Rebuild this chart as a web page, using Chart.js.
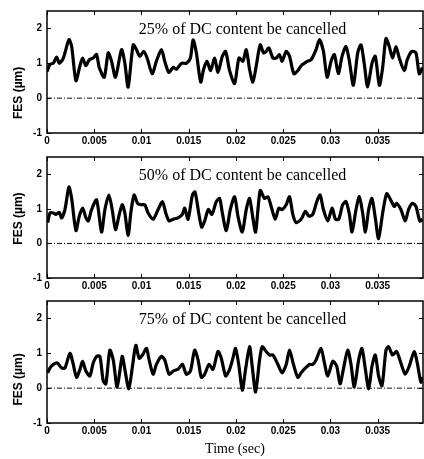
<!DOCTYPE html>
<html>
<head>
<meta charset="utf-8">
<script src="https://cdn.jsdelivr.net/npm/chart.js@4.4.0/dist/chart.umd.min.js"></script>
<style>
  body { margin: 0; background: #fff; }
  #wrap { position: relative; width: 424px; height: 459px; overflow: hidden; background: #fff; }
  canvas { position: absolute; left: 0; }
</style>
</head>
<body>
<div id="wrap">
  <canvas id="fes25" width="424" height="150" style="top:0px"></canvas>
  <canvas id="fes50" width="424" height="149" style="top:146px"></canvas>
  <canvas id="fes75" width="424" height="169" style="top:290px"></canvas>
</div>
<script>
// FES traces, time in ms, FES in um
var time25 = [0,0.32,0.67,1.02,1.30,1.73,2.32,2.61,3.06,3.49,
  3.77,4.12,4.47,4.89,5.25,5.53,6.06,6.48,6.83,7.25,
  7.89,8.24,8.59,9.12,9.47,9.82,10.25,10.60,11.13,11.58,
  12.11,12.46,12.89,13.35,13.70,14.23,14.75,15.18,15.46,15.81,
  16.27,16.58,16.94,17.32,17.75,18.10,18.56,18.91,19.33,19.86,
  20.32,20.74,21.09,21.44,21.79,22.15,22.57,22.92,23.20,23.49,
  23.91,24.26,24.61,24.89,25.32,25.67,26.13,26.55,26.90,27.25,
  27.60,27.96,28.48,28.84,29.26,29.65,30.07,30.42,30.84,31.23,
  31.65,32.01,32.43,32.89,33.24,33.59,33.94,34.40,34.75,35.18,
  35.53,35.88,36.23,36.58,36.94,37.29,37.82,38.13,38.59,39.05,
  39.40,39.75];
var fes25 = [0.76,0.97,1.0,1.18,1.0,1.15,1.68,1.48,0.5,0.93,
  1.15,0.93,1.1,1.15,1.25,0.88,0.6,1.3,1.06,0.6,
  1.39,1.0,0.32,1.53,1.39,1.2,1.34,1.15,0.7,1.06,
  1.39,1.06,0.74,0.88,0.83,1.0,1.0,1.15,1.67,1.3,
  0.46,0.83,1.06,0.79,1.15,0.74,1.2,1.34,0.79,0.42,
  1.15,1.06,1.39,0.83,0.46,0.93,1.53,1.3,1.34,1.44,
  1.15,1.15,1.25,1.06,1.34,1.2,0.7,0.79,0.93,1.0,
  1.06,1.1,1.39,1.68,1.34,0.6,1.06,1.25,0.7,1.2,
  1.48,1.06,0.37,1.3,1.53,0.97,0.32,1.0,1.2,0.37,
  0.88,1.71,1.48,1.15,1.48,1.15,0.79,1.1,1.34,1.3,
  0.7,0.88];

var time50 = [0.07,0.32,0.67,0.95,1.30,1.55,1.90,2.32,2.61,3.06,
  3.42,3.77,4.12,4.37,4.72,5.25,5.77,6.13,6.55,6.90,
  7.25,7.61,7.96,8.24,8.59,8.87,9.22,9.58,9.93,10.35,
  10.70,11.23,11.76,12.22,12.57,12.92,13.35,13.87,14.33,14.58,
  14.93,15.39,15.67,16.06,16.37,16.69,17.08,17.46,17.92,18.27,
  18.56,18.98,19.40,19.86,20.21,20.67,21.09,21.44,21.79,22.08,
  22.57,23.03,23.38,23.73,24.15,24.54,24.89,25.32,25.67,26.02,
  26.37,26.90,27.36,27.71,28.13,28.56,28.91,29.26,29.72,30.18,
  30.53,30.88,31.30,31.65,32.01,32.29,32.71,33.06,33.41,33.70,
  34.05,34.40,34.75,35.10,35.53,35.95,36.30,36.76,37.01,37.46,
  37.92,38.27,38.70,39.05,39.47,39.75];
var fes50 = [0.6,0.88,0.88,0.84,0.9,0.74,0.98,1.63,1.3,0.37,
  0.79,1.02,0.74,0.65,0.98,1.26,0.33,0.98,1.4,0.98,
  0.4,0.79,1.12,0.88,0.23,0.88,1.4,1.16,1.12,1.12,
  0.88,0.7,0.98,1.21,0.88,0.65,0.7,0.74,0.84,1.02,
  0.7,1.4,1.49,0.88,0.47,0.65,0.98,0.84,1.21,1.3,
  0.88,0.37,0.98,1.35,0.79,0.33,0.98,1.3,0.74,0.33,
  1.53,1.3,1.35,1.07,0.7,1.02,0.98,1.12,1.35,0.84,
  0.6,0.7,0.93,0.79,0.84,1.21,1.4,0.98,0.65,1.02,
  0.7,0.7,1.12,1.21,0.84,0.33,0.98,1.35,0.88,0.33,
  0.98,1.3,0.74,0.14,0.88,1.44,1.3,1.07,1.16,0.98,
  0.65,0.98,1.16,1.07,0.65,0.7];

var time75 = [0.07,0.32,0.67,1.09,1.55,1.90,2.43,2.78,3.13,3.49,
  3.77,4.12,4.54,4.89,5.25,5.60,5.95,6.23,6.65,7.01,
  7.43,7.96,8.24,8.66,9.05,9.40,9.75,10.11,10.53,10.81,
  11.23,11.58,12.11,12.46,12.92,13.35,13.87,14.33,14.75,15.18,
  15.63,15.99,16.34,16.69,17.15,17.57,18.10,18.45,18.91,19.33,
  19.68,19.96,20.32,20.67,21.02,21.44,21.72,22.08,22.50,22.78,
  23.20,23.56,23.91,24.44,24.89,25.32,25.67,26.09,26.55,26.90,
  27.36,27.78,28.13,28.48,29.01,29.37,29.72,30.25,30.67,31.02,
  31.37,31.83,32.18,32.53,32.99,33.34,33.70,34.05,34.40,34.75,
  35.10,35.46,35.88,36.16,36.58,37.01,37.46,37.92,38.34,38.87,
  39.22,39.58,39.75];
var fes75 = [0.44,0.58,0.68,0.72,0.58,0.58,1.0,0.68,0.31,0.54,
  0.77,0.49,0.35,0.72,0.91,0.91,0.21,0.12,1.09,0.81,
  0.03,0.91,0.54,-0.02,0.63,1.23,0.86,0.95,1.14,0.81,
  0.40,0.68,0.91,0.81,0.40,0.49,0.54,0.68,0.40,0.49,
  1.09,0.81,0.31,0.40,0.68,0.54,1.05,0.86,0.35,0.54,
  0.86,1.14,0.63,-0.06,0.54,1.19,0.63,-0.11,0.81,1.19,
  1.05,0.95,0.95,0.68,0.44,0.68,1.09,0.68,0.31,0.44,
  0.58,0.68,0.68,0.81,1.14,0.72,0.35,0.77,0.63,0.12,
  0.54,1.09,0.68,0.03,0.81,1.14,0.54,-0.02,0.63,0.95,
  0.35,0.07,1.09,1.19,0.95,1.05,0.72,0.40,0.63,1.05,
  0.68,0.17,0.31];

var captions = ['25% of DC content be cancelled', '50% of DC content be cancelled', '75% of DC content be cancelled'];
var xTicks = [0, 0.005, 0.01, 0.015, 0.02, 0.025, 0.03, 0.035];
var xTickLabels = ['0', '0.005', '0.01', '0.015', '0.02', '0.025', '0.03', '0.035'];
var yTicks = [-1, 0, 1, 2];
var xMin = 0, xMax = 0.0398, yMin = -1, yMax = 2.5;
var zeroLevel = 0;

var tickFont = { family: '"Liberation Sans Narrow", "Liberation Sans", Arial, sans-serif', size: 10, weight: 'bold' };

// box with inward ticks on all four sides, caption and y label
var framePlugin = {
  id: 'frame',
  afterDatasetsDraw: function (chart) {
    var a = chart.chartArea, ctx = chart.ctx;
    var xs = chart.scales.x, ys = chart.scales.y;
    var p = chart.options.plugins.frame;
    ctx.save();
    ctx.strokeStyle = '#000';
    ctx.lineWidth = 1.5;
    ctx.strokeRect(a.left, a.top, a.right - a.left, a.bottom - a.top);
    ctx.lineWidth = 1;
    ctx.beginPath();
    xTicks.forEach(function (v) {
      var px = Math.round(xs.getPixelForValue(v)) + 0.5;
      ctx.moveTo(px, a.bottom); ctx.lineTo(px, a.bottom - 4);
      ctx.moveTo(px, a.top); ctx.lineTo(px, a.top + 4);
    });
    yTicks.forEach(function (v) {
      var py = Math.round(ys.getPixelForValue(v)) + 0.5;
      ctx.moveTo(a.left, py); ctx.lineTo(a.left + 4, py);
      ctx.moveTo(a.right, py); ctx.lineTo(a.right - 4, py);
    });
    ctx.stroke();

    ctx.fillStyle = '#000';
    ctx.textAlign = 'center';
    ctx.textBaseline = 'middle';
    ctx.font = '16px "Liberation Serif", "Times New Roman", serif';
    ctx.fillText(p.caption, xs.getPixelForValue(p.captionAt[0]), ys.getPixelForValue(p.captionAt[1]));

    ctx.translate(19, ys.getPixelForValue(p.labelAt));
    ctx.rotate(-Math.PI / 2);
    ctx.font = 'bold 12px "Liberation Sans", Arial, sans-serif';
    ctx.fillText('FES (\u00b5m)', 0, 0);
    ctx.restore();
  }
};

function makePanel(id, times, values, caption, labelAt, showTime) {
  var pts = times.map(function (t, i) { return { x: t / 1000, y: values[i] }; });
  var ctx = document.getElementById(id).getContext('2d');
  return new Chart(ctx, {
    type: 'line',
    data: {
      datasets: [{
        data: pts,
        borderColor: '#000',
        borderWidth: 3.2,
        pointRadius: 0,
        tension: 0.25,
        order: 1
      }, {
        data: [{ x: xMin, y: zeroLevel }, { x: xMax, y: zeroLevel }],
        borderColor: '#111',
        borderWidth: 1,
        borderDash: [5, 2, 1, 2],
        pointRadius: 0,
        order: 2
      }]
    },
    options: {
      responsive: false,
      devicePixelRatio: 1,
      animation: false,
      layout: { padding: { top: 7, right: 1, left: 0, bottom: 0 } },
      plugins: {
        legend: { display: false },
        tooltip: { enabled: false },
        frame: { caption: caption, captionAt: [0.0207, 1.95], labelAt: labelAt }
      },
      scales: {
        x: {
          type: 'linear',
          min: xMin,
          max: xMax,
          afterBuildTicks: function (s) { s.ticks = xTicks.map(function (v) { return { value: v }; }); },
          afterFit: function (s) { s.height = showTime ? 36 : 17; },
          grid: { display: false, drawTicks: false },
          border: { display: false },
          ticks: {
            autoSkip: false,
            maxRotation: 0,
            padding: 2,
            color: '#000',
            font: tickFont,
            callback: function (v, i) { return xTickLabels[i]; }
          },
          title: {
            display: showTime,
            text: 'Time (sec)',
            color: '#000',
            font: { family: '"Liberation Serif", "Times New Roman", serif', size: 14 },
            padding: { top: 0, bottom: 1 }
          }
        },
        y: {
          min: yMin,
          max: yMax,
          afterBuildTicks: function (s) { s.ticks = yTicks.map(function (v) { return { value: v }; }); },
          afterFit: function (s) { s.width = 47; },
          grid: { display: false, drawTicks: false },
          border: { display: false },
          ticks: { padding: 5, color: '#000', font: tickFont }
        }
      }
    },
    plugins: [framePlugin]
  });
}

makePanel('fes25', time25, fes25, captions[0], 0.15, false);
makePanel('fes50', time50, fes50, captions[1], 0.72, false);
makePanel('fes75', time75, fes75, captions[2], 0.25, true);
</script>
</body>
</html>
